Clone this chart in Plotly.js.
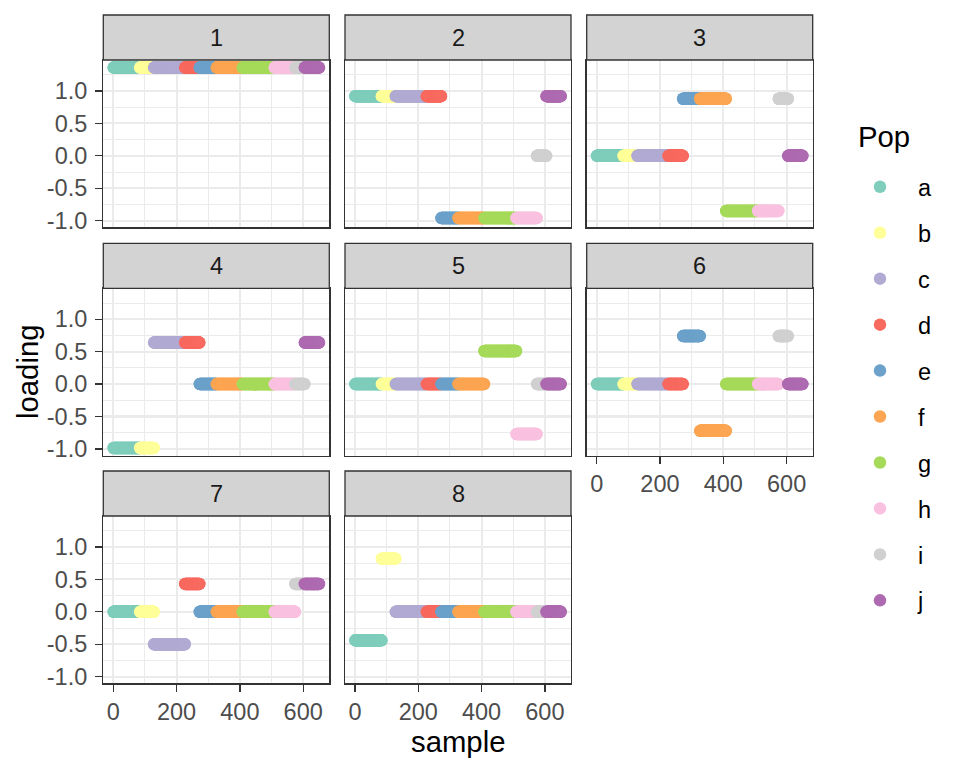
<!DOCTYPE html>
<html><head><meta charset="utf-8">
<script src="https://cdn.plot.ly/plotly-3.0.1.min.js"></script>
<style>html,body{margin:0;padding:0;background:#fff}#chart{width:960px;height:768px}</style>
</head><body><div id="chart"></div>
<script>
// ---- data ----
const pops = ['a','b','c','d','e','f','g','h','i','j'];
const popSizes = [84, 44, 98, 46, 54, 82, 101, 65, 30, 46];
const popColors = ['#7FCDBB','#FFFF99','#B1ABD3','#F8695F','#6CA1CA','#FCA552','#A6DA5A','#F9C1DF','#D0D0D0','#AE6AB0'];
const factors = ['1','2','3','4','5','6','7','8'];
// loading of each pop (a..j) on each factor
const loading1 = [1.36, 1.36, 1.36, 1.36, 1.36, 1.36, 1.36, 1.36, 1.36, 1.36];
const loading2 = [0.92, 0.92, 0.92, 0.92, -0.96, -0.96, -0.96, -0.96, 0.00, 0.92];
const loading3 = [0.00, 0.00, 0.00, 0.00, 0.88, 0.88, -0.85, -0.85, 0.88, 0.00];
const loading4 = [-0.985, -0.985, 0.64, 0.64, 0.00, 0.00, 0.00, 0.00, 0.00, 0.64];
const loading5 = [0.00, 0.00, 0.00, 0.00, 0.00, 0.00, 0.51, -0.77, 0.00, 0.00];
const loading6 = [0.00, 0.00, 0.00, 0.00, 0.74, -0.72, 0.00, 0.00, 0.74, 0.00];
const loading7 = [0.00, 0.00, -0.50, 0.43, 0.00, 0.00, 0.00, 0.00, 0.43, 0.43];
const loading8 = [-0.44, 0.82, 0.00, 0.00, 0.00, 0.00, 0.00, 0.00, 0.00, 0.00];
const loadings = [loading1, loading2, loading3, loading4, loading5, loading6, loading7, loading8];
const xTickVals = [0, 200, 400, 600];
const xTickText = ['0', '200', '400', '600'];
const xMinorVals = [100, 300, 500];
const yTickVals = [-1, -0.5, 0, 0.5, 1];
const yTickText = ['-1.0', '-0.5', '0.0', '0.5', '1.0'];
const yMinorVals = [-0.75, -0.25, 0.25, 0.75, 1.25];

// ---- layout geometry (px) ----
const W = 960, H = 768;
const colX = [[103.3, 329.3], [345, 571], [586.7, 812.7]];
const rowY = [[60, 227.3], [288.3, 455.6], [516, 683.3]];
const stripH = 45;
const FONT = 'Liberation Sans, Arial, Helvetica, sans-serif';
const px = v => v / W;
const py = v => 1 - v / H;

// sample indices per pop
const popSamples = [];
let start = 1;
popSizes.forEach(n => {
  const s = [];
  for (let k = 0; k < n; k++) s.push(start + k);
  popSamples.push(s);
  start += n;
});
const nSamples = start - 1;

// ranges with ggplot-like 5% expansion
const xPad = 0.05 * (nSamples - 1);
const xRange = [1 - xPad, nSamples + xPad];
const allVals = loadings.flat();
const yMin = Math.min(...allVals), yMax = Math.max(...allVals);
const yPad = 0.05 * (yMax - yMin);
const yRange = [yMin - yPad, yMax + yPad];

const traces = [];
const layout = {
  width: W, height: H,
  margin: {l: 0, r: 0, t: 0, b: 0},
  paper_bgcolor: '#fff', plot_bgcolor: '#fff',
  font: {family: FONT, color: '#000'},
  showlegend: true,
  legend: {
    x: px(842), xanchor: 'left', y: py(165), yanchor: 'top',
    traceorder: 'grouped', tracegroupgap: 12.4, itemwidth: 66,
    font: {family: FONT, size: 23.5, color: '#000'},
    bgcolor: 'rgba(0,0,0,0)', borderwidth: 0,
    itemclick: false, itemdoubleclick: false
  },
  shapes: [], annotations: []
};

factors.forEach((f, p) => {
  const r = Math.floor(p / 3), c = p % 3;
  const sfx = p === 0 ? '' : String(p + 1);
  const xName = 'xaxis' + sfx, yName = 'yaxis' + sfx;
  const xRef = 'x' + sfx, yRef = 'y' + sfx;
  const bottomOfCol = (p + 3 >= factors.length);
  const leftCol = (c === 0);
  layout[xName] = {
    domain: [px(colX[c][0]), px(colX[c][1])], anchor: yRef,
    range: xRange, autorange: false,
    tickmode: 'array', tickvals: xTickVals, ticktext: xTickText,
    showticklabels: bottomOfCol, ticks: bottomOfCol ? 'outside' : '',
    ticklen: 7, tickwidth: 1.3, tickcolor: '#333333', ticklabelstandoff: 0,
    tickfont: {family: FONT, size: 23.5, color: '#4D4D4D'},
    showgrid: true, gridcolor: '#EBEBEB', gridwidth: 2.1,
    minor: {tickmode: 'array', tickvals: xMinorVals, showgrid: true, gridcolor: '#EBEBEB', gridwidth: 1.05, ticks: ''},
    zeroline: false, showline: true, mirror: true, linecolor: '#333333', linewidth: 1.3,
    fixedrange: true
  };
  layout[yName] = {
    domain: [py(rowY[r][1]), py(rowY[r][0])], anchor: xRef,
    range: yRange, autorange: false,
    tickmode: 'array', tickvals: yTickVals, ticktext: yTickText,
    showticklabels: leftCol, ticks: leftCol ? 'outside' : '',
    ticklen: 7, tickwidth: 1.3, tickcolor: '#333333', ticklabelstandoff: 3,
    tickfont: {family: FONT, size: 23.5, color: '#4D4D4D'},
    showgrid: true, gridcolor: '#EBEBEB', gridwidth: 2.1,
    minor: {tickmode: 'array', tickvals: yMinorVals, showgrid: true, gridcolor: '#EBEBEB', gridwidth: 1.05, ticks: ''},
    zeroline: false, showline: true, mirror: true, linecolor: '#333333', linewidth: 1.3,
    fixedrange: true
  };
  // strip
  layout.shapes.push({
    type: 'rect', xref: 'paper', yref: 'paper',
    x0: px(colX[c][0]), x1: px(colX[c][1]),
    y0: py(rowY[r][0]), y1: py(rowY[r][0] - stripH),
    fillcolor: '#D3D3D3', line: {color: '#333333', width: 1.3}, layer: 'above'
  });
  layout.annotations.push({
    xref: 'paper', yref: 'paper',
    x: px((colX[c][0] + colX[c][1]) / 2), y: py(rowY[r][0] - stripH / 2),
    xanchor: 'center', yanchor: 'middle', showarrow: false,
    text: f, font: {family: FONT, size: 23.5, color: '#1A1A1A'}
  });
  // points
  pops.forEach((pop, k) => {
    traces.push({
      type: 'scatter', mode: 'markers',
      x: popSamples[k],
      y: popSamples[k].map(() => loadings[p][k]),
      xaxis: xRef, yaxis: yRef,
      name: pop, legendgroup: pop, showlegend: p === 0,
      marker: {color: popColors[k], size: 12.5, line: {width: 0}},
      hoverinfo: 'skip', cliponaxis: false
    });
  });
});

// axis titles and legend title
layout.annotations.push({
  xref: 'paper', yref: 'paper', x: px(458), y: py(741),
  xanchor: 'center', yanchor: 'middle', showarrow: false,
  text: 'sample', font: {family: FONT, size: 29.3, color: '#000'}
});
layout.annotations.push({
  xref: 'paper', yref: 'paper', x: px(27), y: py(372),
  xanchor: 'center', yanchor: 'middle', showarrow: false, textangle: -90,
  text: 'loading', font: {family: FONT, size: 29.3, color: '#000'}
});
layout.annotations.push({
  xref: 'paper', yref: 'paper', x: px(856), y: py(137),
  xanchor: 'left', yanchor: 'middle', showarrow: false,
  text: 'Pop', font: {family: FONT, size: 29.3, color: '#000'}
});

Plotly.newPlot('chart', traces, layout, {staticPlot: true, displayModeBar: false});
</script>
</body></html>
